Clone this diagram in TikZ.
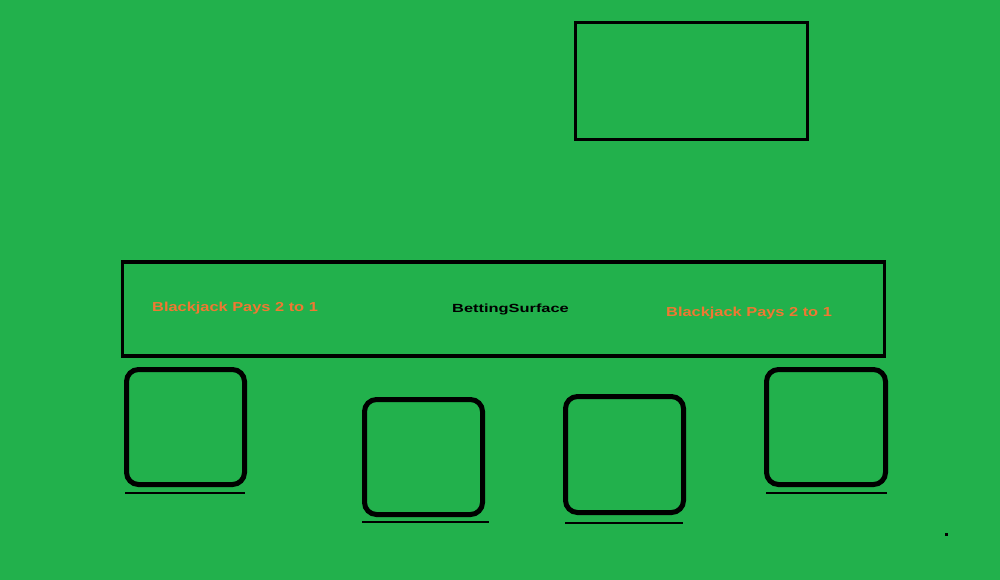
\documentclass[tikz,border=0pt]{standalone}
\usepackage{fontspec}
\setmainfont{Liberation Sans}
\definecolor{felt}{RGB}{34,177,76}
\definecolor{paytext}{RGB}{240,120,50}
\newcommand{\widetext}[2]{\scalebox{#1}[1]{#2}}
\begin{document}
\begin{tikzpicture}[x=1pt,y=-1pt,
  seat/.style={draw=black,line width=5pt,rounded corners=12pt,inner sep=0pt},
  seatline/.style={draw=black,line width=2pt},
  frame/.style={draw=black,line width=3pt,inner sep=0pt},
  paylabel/.style={anchor=base west,inner sep=0pt,text=paytext,font=\bfseries\fontsize{13}{15}\selectfont},
  surflabel/.style={anchor=base west,inner sep=0pt,text=black,font=\bfseries\fontsize{11.8}{14}\selectfont}]
\fill[felt] (0,0) rectangle (1000,580);
\useasboundingbox (0,0) rectangle (1000,580);
% dealer area
\node[frame,minimum width=232pt,minimum height=117pt] (dealer) at (691,81) {};
% betting surface
\node[frame,line width=3.5pt,minimum width=762pt,minimum height=94pt] (surface) at (503.6,309) {};
\node[paylabel] (payL) at (152,311.3) {\widetext{1.26}{Blackjack Pays 2 to 1}};
\node[surflabel] (betsurf) at (452,312.7) {\widetext{1.39}{BettingSurface}};
\node[paylabel] (payR) at (666,316) {\widetext{1.26}{Blackjack Pays 2 to 1}};
% seats
\node[seat,minimum width=118pt,minimum height=115pt] (seatA) at (185.5,427) {};
\node[seat,minimum width=118pt,minimum height=115pt] (seatB) at (423.5,457) {};
\node[seat,minimum width=118pt,minimum height=116pt] (seatC) at (624.5,454.5) {};
\node[seat,minimum width=119pt,minimum height=115pt] (seatD) at (826,427) {};
% seat lines
\coordinate (a1) at (125,493); \coordinate (a2) at (245,493);
\coordinate (b1) at (362,522); \coordinate (b2) at (489,522);
\coordinate (c1) at (565,523); \coordinate (c2) at (683,523);
\coordinate (d1) at (766,493); \coordinate (d2) at (887,493);
\draw[seatline] (a1) -- (a2);
\draw[seatline] (b1) -- (b2);
\draw[seatline] (c1) -- (c2);
\draw[seatline] (d1) -- (d2);
% dot
\node[fill=black,inner sep=0pt,minimum size=3pt] (dot) at (946,534) {};
\end{tikzpicture}
\end{document}
